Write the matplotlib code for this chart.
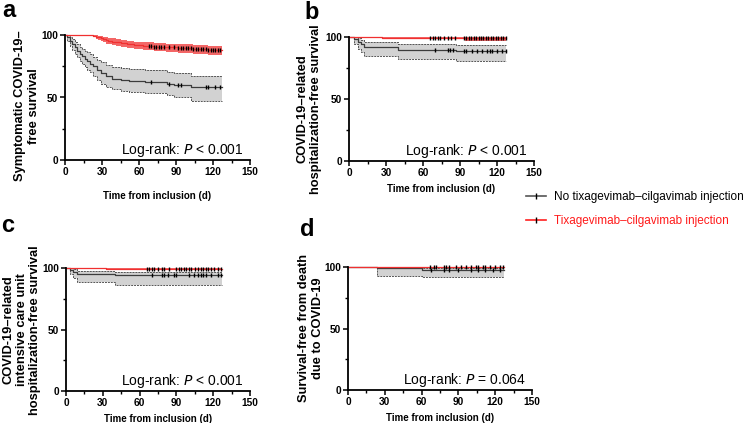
import numpy as np
import matplotlib
matplotlib.use("Agg")
import matplotlib.pyplot as plt
from matplotlib.lines import Line2D

plt.rcParams['font.family'] = ['Liberation Sans', 'DejaVu Sans']

END = 127

# ---- panel a : symptomatic COVID-19
a_red_t = [0, 23, 25, 27, 29, 31, 33, 35, 38, 41, 45, 50, 56, 63, 72, 82, 92, 104, 116]
a_red_s = [100, 99.5, 98.7, 98, 97.2, 96.5, 95.8, 95.2, 94.6, 94, 93.2, 92.4, 91.8, 91.2, 90.7, 90.2, 89.5, 88.8, 88.2]
a_red_hi = [100, 100, 99.9, 99.5, 99, 98.6, 98.1, 97.7, 97.2, 96.7, 96, 95.3, 94.7, 94, 93.5, 93, 92.4, 91.8, 91.2]
a_red_lo = [100, 98.2, 97, 96, 94.9, 94, 93.1, 92.4, 91.6, 90.9, 90, 89.2, 88.5, 87.8, 87.2, 86.6, 85.7, 84.8, 83.8]
a_red_cens = [68, 70, 72, 74, 76, 78, 80, 84, 88, 92, 94, 96, 98, 100, 102, 104, 106,
              108, 110, 112, 114, 116, 118, 120, 122, 124, 126]
a_grey_t = [0, 2, 4, 6, 8, 10, 12, 14, 16, 18, 20, 23, 26, 29, 33, 38, 45, 52, 65, 83, 88, 102]
a_grey_s = [100, 98, 95, 93, 90, 87.5, 85, 83, 81, 79, 77, 75, 72, 69.5, 67, 65, 64, 63, 62.5, 61, 60, 58]
a_grey_hi = [100, 100, 98.5, 97, 94.5, 92.5, 90.5, 89, 87.5, 86, 84.5, 82.5, 80, 78, 76, 74, 73.5, 72.5, 72, 70.5, 69.5, 67]
a_grey_lo = [100, 95, 91, 88, 85, 82, 79.5, 77, 74.5, 72, 70, 67.5, 64, 61, 58.5, 56.5, 55, 54, 53.5, 52, 50.5, 47.5]
a_grey_cens = [70, 84, 92, 94, 114, 116, 122, 126]

# ---- panel b : hospitalization
b_red_t = [0, 27, 94]
b_red_s = [100, 99.5, 98.9]
b_red_hi = [100, 100, 99.8]
b_red_lo = [100, 98.8, 97]
b_red_cens = [66, 68, 70, 72, 74, 77, 80, 83, 86, 93, 95, 97, 99, 101, 103, 105, 107,
              109, 111, 113, 115, 117, 119, 121, 123, 125, 127]
b_grey_t = [0, 4, 7, 10, 12, 40, 87]
b_grey_s = [100, 98.5, 96, 94, 92, 89.5, 88.5]
b_grey_hi = [100, 100, 99, 97.5, 96, 94, 93.5]
b_grey_lo = [100, 94, 90, 87.5, 85, 82.5, 80.7]
b_grey_cens = [70, 80, 82, 84, 93, 95, 100, 104, 108, 112, 114, 116, 120, 124, 127]

# ---- panel c : ICU
c_red_t = [0, 33]
c_red_s = [100, 99.3]
c_red_hi = [100, 100]
c_red_lo = [100, 98.3]
c_red_cens = [66, 68, 70, 72, 75, 78, 80, 84, 90, 92, 94, 96, 98, 100, 102, 105, 108,
              110, 112, 114, 116, 118, 121, 124, 126]
c_grey_t = [0, 3, 6, 9, 40]
c_grey_s = [100, 98, 96.5, 95, 94]
c_grey_hi = [100, 99.8, 98.8, 97.5, 97]
c_grey_lo = [100, 95, 92, 89, 86.5]
c_grey_cens = [70, 78, 80, 83, 88, 90, 100, 104, 108, 110, 112, 114, 118, 124, 126]

# ---- panel d : death
d_red_t = [0, 24]
d_red_s = [100, 99.6]
d_red_hi = [100, 100]
d_red_lo = [100, 98.8]
d_red_cens = [67, 70, 72, 78, 80, 82, 88, 92, 96, 100, 104, 106, 110, 112, 116, 120, 124, 126]
d_grey_t = [0, 24, 60]
d_grey_s = [100, 98.8, 97.7]
d_grey_hi = [100, 99.8, 99.4]
d_grey_lo = [100, 93, 92]
d_grey_cens = [68, 78, 82, 90, 100, 106, 112, 118, 124]

xticks = [0, 30, 60, 90, 120, 150]
yticks = [0, 50, 100]
xlab = 'Time from inclusion (d)'
ylabels = ['Symptomatic COVID-19\u2013\nfree survival',
           'COVID-19\u2013related\nhospitalization-free survival',
           'COVID-19\u2013related\nintensive care unit\nhospitalization-free survival',
           'Survival-free from death\ndue to COVID-19']
pvals = ['$\\it{P}$ < 0.001', '$\\it{P}$ < 0.001', '$\\it{P}$ < 0.001', '$\\it{P}$ = 0.064']

RED = '#f03030'
RED_FILL = '#f36666'
GREY = '#3c3c3c'
GREY_FILL = '#d2d2d2'


def km(ax, t, s, hi, lo, cens, line, fill, dashed):
    tt = np.append(t, END)
    ss = np.append(s, s[-1])
    hh = np.append(hi, hi[-1])
    ll = np.append(lo, lo[-1])
    ax.fill_between(tt, ll, hh, step='post', color=fill, lw=0, clip_on=False)
    if dashed:
        for b in (hh, ll):
            ax.step(tt, b, where='post', color='#555555', lw=0.7, ls=(0, (2, 1)), clip_on=False)
    ax.step(tt, ss, where='post', color=line, lw=0.9, clip_on=False)
    cy = ss[np.searchsorted(tt, cens, side='right') - 1]
    ax.plot(cens, cy, ls='none', marker='|', color='k', ms=3, mew=1.0, clip_on=False)


fig = plt.figure(figsize=(7.5, 4.23), dpi=100)
W, H = 750.0, 423.0
boxes = [(65, 35, 250, 160), (349, 37, 534, 161), (66, 268, 250, 391), (348, 267, 532, 390)]
panels = [
    (a_red_t, a_red_s, a_red_hi, a_red_lo, a_red_cens, a_grey_t, a_grey_s, a_grey_hi, a_grey_lo, a_grey_cens),
    (b_red_t, b_red_s, b_red_hi, b_red_lo, b_red_cens, b_grey_t, b_grey_s, b_grey_hi, b_grey_lo, b_grey_cens),
    (c_red_t, c_red_s, c_red_hi, c_red_lo, c_red_cens, c_grey_t, c_grey_s, c_grey_hi, c_grey_lo, c_grey_cens),
    (d_red_t, d_red_s, d_red_hi, d_red_lo, d_red_cens, d_grey_t, d_grey_s, d_grey_hi, d_grey_lo, d_grey_cens),
]
ylab_pos = [(27, 106), (309, 109), (22, 330), (311, 328)]
letters = [('a', 2, 17), ('b', 304, 19), ('c', 1, 232), ('d', 300, 236)]

for i, (l, t, r, b) in enumerate(boxes):
    ax = fig.add_axes([l / W, 1 - b / H, (r - l) / W, (b - t) / H])
    p = panels[i]
    km(ax, p[5], p[6], p[7], p[8], p[9], GREY, GREY_FILL, True)
    km(ax, p[0], p[1], p[2], p[3], p[4], RED, RED_FILL, False)
    ax.set_xlim(0, 150)
    ax.set_ylim(0, 100)
    ax.spines['top'].set_visible(False)
    ax.spines['right'].set_visible(False)
    for sp in ('left', 'bottom'):
        ax.spines[sp].set_linewidth(1.3)
    ax.set_xticks(xticks)
    ax.set_xticks(np.arange(15, 150, 30), minor=True)
    ax.set_yticks(yticks)
    ax.set_yticks([25, 75], minor=True)
    ax.tick_params(which='major', length=3.5, width=1.1, labelsize=7.3, pad=1.5)
    ax.tick_params(which='minor', length=2.2, width=1.0)
    for lab in ax.get_xticklabels() + ax.get_yticklabels():
        lab.set_fontweight('bold')
    ax.set_xlabel(xlab, fontsize=7, fontweight='bold', labelpad=10 if i == 0 else 4)
    ax.text(145, 8, 'Log-rank: ' + pvals[i], fontsize=10, ha='right', va='center')
    fig.text(ylab_pos[i][0] / W, 1 - ylab_pos[i][1] / H, ylabels[i], rotation=90,
             ha='center', va='center', fontsize=9.3, fontweight='bold', linespacing=1.15,
             multialignment='center')

for ch, x, y in letters:
    fig.text(x / W, 1 - y / H, ch, fontsize=17, fontweight='bold', va='baseline')

handles = [Line2D([], [], color='#555555', lw=1.2, marker='|', mec='k', ms=4),
           Line2D([], [], color='#ff2020', lw=1.2, marker='|', mec='k', ms=4)]
leg = fig.legend(handles, ['No tixagevimab\u2013cilgavimab injection', 'Tixagevimab\u2013cilgavimab injection'],
                 loc='upper left', bbox_to_anchor=(526 / W, 1 - 191 / H), frameon=False,
                 fontsize=8.5, handlelength=1.7, handletextpad=0.7, labelspacing=1.0,
                 borderpad=0, borderaxespad=0, numpoints=1)
leg.get_texts()[1].set_color('#ff1a1a')

fig.savefig('out.png', dpi=100)
